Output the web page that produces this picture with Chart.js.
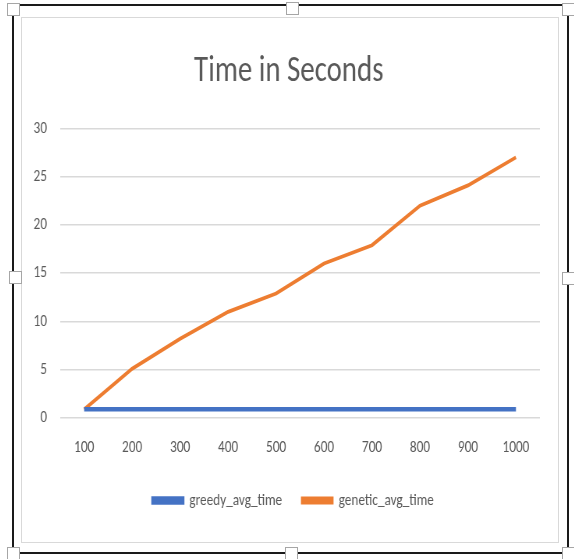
<!DOCTYPE html>
<html>
<head>
<meta charset="utf-8">
<script src="https://cdn.jsdelivr.net/npm/chart.js@4/dist/chart.umd.min.js"></script>
<style>
  html, body { margin: 0; padding: 0; background: #ffffff; }
  body { width: 574px; height: 559px; position: relative; overflow: hidden; }
  .frame { position: absolute; background: #1a1a1a; }
  .handle { position: absolute; width: 11px; height: 11px; background: #ffffff; border: 1px solid #a6a6a6; }
  #box { position: absolute; left: 21px; top: 17px; width: 536px; height: 524px; border: 1px solid #d9d9d9; overflow: hidden; }
  /* the chart is laid out wide and narrowed horizontally, giving condensed lettering */
  #box canvas { display: block; transform: scaleX(0.78); transform-origin: 0 0; }
</style>
</head>
<body>
<div class="frame" style="left:20px; top:4px; width:542px; height:2px;"></div>
<div class="frame" style="left:20px; top:552px; width:542px; height:2px;"></div>
<div class="frame" style="left:12px; top:15px; width:2px; height:532px;"></div>
<div class="frame" style="left:567px; top:15px; width:2px; height:532px;"></div>
<div id="box"><canvas id="chart" width="687" height="524"></canvas></div>
<div class="handle" style="left:7px; top:3px;"></div>
<div class="handle" style="left:286px; top:2px;"></div>
<div class="handle" style="left:562px; top:3px;"></div>
<div class="handle" style="left:9px; top:271px;"></div>
<div class="handle" style="left:562px; top:272px;"></div>
<div class="handle" style="left:7px; top:547px;"></div>
<div class="handle" style="left:285px; top:547px;"></div>
<div class="handle" style="left:562px; top:547px;"></div>
<script>
// problem sizes (x axis)
const sizes = ['100', '200', '300', '400', '500', '600', '700', '800', '900', '1000'];
// average running time in seconds
const greedyAvgTime = [0.9, 0.9, 0.9, 0.9, 0.9, 0.9, 0.9, 0.9, 0.9, 0.9];
const geneticAvgTime = [0.9, 5.1, 8.2, 11, 12.9, 16, 17.9, 22, 24.1, 27];
// y axis range and step
const yMin = 0, yMax = 30, yStep = 5;

const FONT = "Carlito, Calibri, 'Open Sans', sans-serif";
const TEXT = '#595959';

// centre the title and legend on the plot rather than on the whole canvas
const blockNudge = {
  id: 'blockNudge',
  afterLayout(chart) {
    const t = chart.titleBlock, lg = chart.legend;
    if (t) { t.left += 10; t.right += 10; }
    if (lg) { lg.left += 16; lg.right += 16; }
  }
};

new Chart(document.getElementById('chart'), {
  type: 'line',
  data: {
    labels: sizes,
    datasets: [
      { label: 'greedy_avg_time', data: greedyAvgTime, borderColor: '#4472C4', backgroundColor: '#4472C4',
        borderWidth: 4.5, pointRadius: 0, tension: 0 },
      { label: 'genetic_avg_time', data: geneticAvgTime, borderColor: '#ED7D31', backgroundColor: '#ED7D31',
        borderWidth: 3.8, pointRadius: 0, tension: 0 }
    ]
  },
  plugins: [blockNudge],
  options: {
    responsive: false,
    animation: false,
    layout: { padding: { left: 0, right: 23, top: 0, bottom: 23 } },
    plugins: {
      title: {
        display: true, text: 'Time in Seconds', color: TEXT,
        font: { family: FONT, size: 37, weight: 'normal' },
        padding: { top: 32, bottom: 34 }
      },
      legend: {
        position: 'bottom',
        labels: {
          color: TEXT, font: { family: FONT, size: 17 },
          boxWidth: 38, boxHeight: 4, padding: 26
        }
      },
      tooltip: { enabled: false }
    },
    scales: {
      x: {
        offset: true,
        grid: { display: false },
        border: { display: false },
        ticks: { color: TEXT, font: { family: FONT, size: 17 }, padding: 12, maxRotation: 0 },
        afterFit(scale) { scale.height = 48; }
      },
      y: {
        min: yMin, max: yMax,
        grid: { color: '#d9d9d9', lineWidth: 1.5, drawTicks: false },
        border: { display: false },
        ticks: { stepSize: yStep, color: TEXT, font: { family: FONT, size: 17 }, padding: 17 },
        afterFit(scale) { scale.width = 49; }
      }
    }
  }
});
</script>
</body>
</html>
